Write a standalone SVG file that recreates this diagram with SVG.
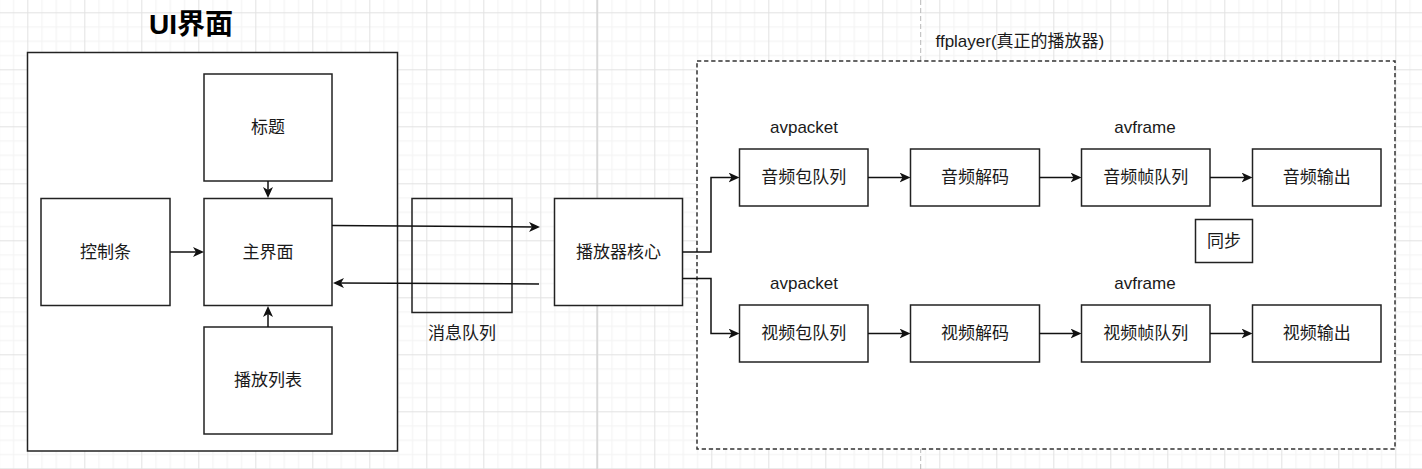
<svg xmlns="http://www.w3.org/2000/svg" width="1422" height="469" viewBox="0 0 1422 469">
  <style>
    .box { fill: #ffffff; stroke: #222222; stroke-width: 1.5; }
    .clear { fill: none; stroke: #222222; stroke-width: 1.5; }
    .dash { fill: #ffffff; stroke: #333333; stroke-width: 1.5; stroke-dasharray: 4.3 2.8; }
    .lbl { font-family: "Liberation Sans", "Noto Sans CJK SC", sans-serif; font-size: 17px; fill: #1a1a1a; text-anchor: middle; dominant-baseline: central; }
    .title { font-family: "Liberation Sans", "Noto Sans CJK SC", sans-serif; font-size: 28px; font-weight: bold; fill: #000000; text-anchor: middle; dominant-baseline: central; }
    .conn { fill: none; stroke: #111111; stroke-width: 1.5; marker-end: url(#arrow); }
  </style>
  <defs>
    <pattern id="grid" patternUnits="userSpaceOnUse" x="27.3" y="12.3" width="57" height="57">
      <rect x="14.25" y="0" width="1" height="57" fill="#f2f2f2"/>
      <rect x="28.5" y="0" width="1" height="57" fill="#f2f2f2"/>
      <rect x="42.75" y="0" width="1" height="57" fill="#f2f2f2"/>
      <rect x="0" y="14.25" width="57" height="1" fill="#f2f2f2"/>
      <rect x="0" y="28.5" width="57" height="1" fill="#f2f2f2"/>
      <rect x="0" y="42.75" width="57" height="1" fill="#f2f2f2"/>
      <rect x="0" y="0" width="1" height="57" fill="#e2e2e2"/>
      <rect x="0" y="0" width="57" height="1" fill="#e2e2e2"/>
    </pattern>
    <marker id="arrow" viewBox="0 0 11 10" markerWidth="11" markerHeight="10" refX="8" refY="5" orient="auto" markerUnits="userSpaceOnUse">
      <path d="M0,0 L11,5 L0,10 L3,5 Z" fill="#111111"/>
    </marker>
  </defs>

  <g id="background">
    <rect x="0" y="0" width="1422" height="469" fill="#ffffff"/>
    <rect x="0" y="0" width="1422" height="469" fill="url(#grid)"/>
    <rect x="596.3" y="0" width="1.6" height="469" fill="#d6d6d6"/>
    <line x1="920.7" y1="0" x2="920.7" y2="469" stroke="#b8b8b8" stroke-width="1" stroke-dasharray="5 3"/>
  </g>

  <g id="ui-container">
    <text class="title" x="191" y="24">UI界面</text>
    <rect class="box" x="27.5" y="52.5" width="370" height="398.5"/>
  </g>

  <g id="ffplayer-container">
    <rect class="dash" x="697" y="61" width="698" height="388"/>
    <text class="lbl" x="935.5" y="41.5" style="text-anchor: start;">ffplayer(真正的播放器)</text>
  </g>

  <g id="node-title">
    <rect class="box" x="204" y="74" width="128" height="107"/>
    <text class="lbl" x="268" y="127.5">标题</text>
  </g>
  <g id="node-control">
    <rect class="box" x="41" y="198.5" width="129" height="107"/>
    <text class="lbl" x="105.5" y="252">控制条</text>
  </g>
  <g id="node-main">
    <rect class="box" x="204" y="198.5" width="128" height="107"/>
    <text class="lbl" x="268" y="252">主界面</text>
  </g>
  <g id="node-playlist">
    <rect class="box" x="204" y="327" width="128" height="107"/>
    <text class="lbl" x="268" y="380.5">播放列表</text>
  </g>
  <g id="node-msgqueue">
    <rect class="clear" x="412" y="198.5" width="100" height="114"/>
    <text class="lbl" x="462" y="333">消息队列</text>
  </g>
  <g id="node-core">
    <rect class="box" x="554.5" y="198.5" width="128" height="107"/>
    <text class="lbl" x="618.5" y="252">播放器核心</text>
  </g>

  <g id="label-avpacket-a"><text class="lbl" x="804" y="127">avpacket</text></g>
  <g id="label-avframe-a"><text class="lbl" x="1145" y="127">avframe</text></g>
  <g id="label-avpacket-v"><text class="lbl" x="804" y="283.5">avpacket</text></g>
  <g id="label-avframe-v"><text class="lbl" x="1145" y="283.5">avframe</text></g>

  <g id="node-audio-pkt">
    <rect class="box" x="739.5" y="149" width="128.5" height="57"/>
    <text class="lbl" x="803.75" y="177.5">音频包队列</text>
  </g>
  <g id="node-audio-dec">
    <rect class="box" x="910.5" y="149" width="129" height="57"/>
    <text class="lbl" x="975" y="177.5">音频解码</text>
  </g>
  <g id="node-audio-frm">
    <rect class="box" x="1081.5" y="149" width="128.5" height="57"/>
    <text class="lbl" x="1145.75" y="177.5">音频帧队列</text>
  </g>
  <g id="node-audio-out">
    <rect class="box" x="1252.5" y="149" width="128.5" height="57"/>
    <text class="lbl" x="1316.75" y="177.5">音频输出</text>
  </g>

  <g id="node-sync">
    <rect class="box" x="1195.5" y="219.5" width="57" height="43"/>
    <text class="lbl" x="1224" y="241">同步</text>
  </g>

  <g id="node-video-pkt">
    <rect class="box" x="739.5" y="305" width="128.5" height="57"/>
    <text class="lbl" x="803.75" y="333.5">视频包队列</text>
  </g>
  <g id="node-video-dec">
    <rect class="box" x="910.5" y="305" width="129" height="57"/>
    <text class="lbl" x="975" y="333.5">视频解码</text>
  </g>
  <g id="node-video-frm">
    <rect class="box" x="1081.5" y="305" width="128.5" height="57"/>
    <text class="lbl" x="1145.75" y="333.5">视频帧队列</text>
  </g>
  <g id="node-video-out">
    <rect class="box" x="1252.5" y="305" width="128.5" height="57"/>
    <text class="lbl" x="1316.75" y="333.5">视频输出</text>
  </g>

  <g id="connectors">
    <path class="conn" d="M268,181 V195"/>
    <path class="conn" d="M170,252 H201"/>
    <path class="conn" d="M268,327 V309"/>
    <path class="conn" d="M332,225.5 L537,227"/>
    <path class="conn" d="M539,284 L336,283"/>
    <path class="conn" d="M682.5,252 H711 V177.5 H736.5"/>
    <path class="conn" d="M682.5,278.5 H711 V333.5 H736.5"/>
    <path class="conn" d="M868,177.5 H907.5"/>
    <path class="conn" d="M1039.5,177.5 H1078.5"/>
    <path class="conn" d="M1210,177.5 H1249.5"/>
    <path class="conn" d="M868,333.5 H907.5"/>
    <path class="conn" d="M1039.5,333.5 H1078.5"/>
    <path class="conn" d="M1210,333.5 H1249.5"/>
  </g>
</svg>
